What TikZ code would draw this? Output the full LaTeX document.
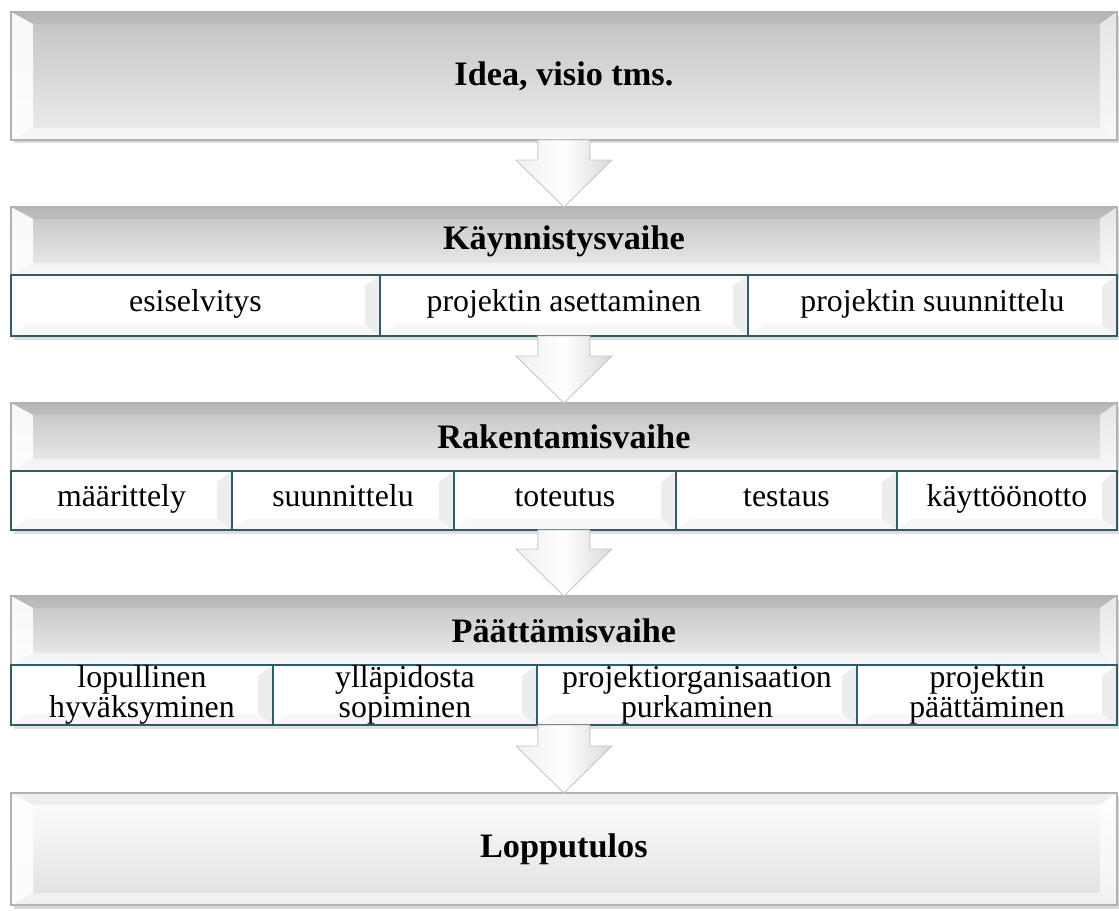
\documentclass[tikz,border=0pt]{standalone}
\usepackage{fontspec}
\setmainfont{Liberation Serif}
\usetikzlibrary{calc,shadows}

\definecolor{barTop}{HTML}{C2C2C2}
\definecolor{barBot}{HTML}{EEEEEE}
\definecolor{subEdge}{HTML}{2F5D66}

\newcommand{\boxfont}{\fontsize{19.5}{21}\selectfont}
\newcommand{\subfont}{\fontsize{18.1}{17.2}\selectfont}

\tikzset{
  bevel/.style={path picture={
      \fill[black,opacity=0.06] (path picture bounding box.north west) -- (path picture bounding box.north east)
        -- ++(-0.34cm,-0.24cm) -- ($(path picture bounding box.north west)+(0.44cm,-0.24cm)$) -- cycle;
      \fill[white,opacity=0.5] (path picture bounding box.south west) -- (path picture bounding box.south east)
        -- ++(-0.34cm,0.24cm) -- ($(path picture bounding box.south west)+(0.44cm,0.24cm)$) -- cycle;
      \fill[white,opacity=0.9] (path picture bounding box.north west) -- ++(0.44cm,-0.24cm)
        -- ($(path picture bounding box.south west)+(0.44cm,0.24cm)$) -- (path picture bounding box.south west) -- cycle;
      \fill[white,opacity=0.6] (path picture bounding box.north east) -- ++(-0.34cm,-0.24cm)
        -- ($(path picture bounding box.south east)+(-0.34cm,0.24cm)$) -- (path picture bounding box.south east) -- cycle;
    }},
  subbevel/.style={path picture={
      \fill[gray!14] (path picture bounding box.north east) -- ++(-0.3cm,-0.22cm)
        -- ($(path picture bounding box.south east)+(-0.3cm,0.22cm)$) -- (path picture bounding box.south east) -- cycle;
      \fill[gray!6] (path picture bounding box.south west) -- (path picture bounding box.south east)
        -- ++(-0.3cm,0.22cm) -- ($(path picture bounding box.south west)+(0.3cm,0.22cm)$) -- cycle;
    }},
}

% block arrow from the bottom of one node to the top of the next
\newcommand{\flowarrow}[2]{%
  \path[left color=gray!12, right color=gray!30, middle color=white, draw=gray!45, line width=0.5pt]
    let \p1=(#1.south), \p2=(#2.north) in
    (\x2-0.52cm,\y1) -- (\x2+0.52cm,\y1) -- (\x2+0.52cm,\y2+0.94cm) -- (\x2+0.96cm,\y2+0.94cm)
    -- (\x2,\y2) -- (\x2-0.96cm,\y2+0.94cm) -- (\x2-0.52cm,\y2+0.94cm) -- cycle;}

\begin{document}
\begin{tikzpicture}[x=0.02cm,y=-0.02cm,
    bar/.style={anchor=north west, minimum width=22.12cm, inner sep=0pt, outer sep=0pt,
      draw=gray!60, line width=0.9pt, top color=barTop, bottom color=barBot,
      font=\boxfont\bfseries, bevel,
      drop shadow={opacity=0.3, shadow xshift=1.5pt, shadow yshift=-2pt}},
    endbar/.style={bar, top color=white, bottom color=gray!25},
    sub/.style={anchor=north west, inner sep=0pt, outer sep=0pt, draw=subEdge, line width=1.3pt,
      fill=white, align=center, font=\subfont, subbevel,
      drop shadow={opacity=0.25, shadow xshift=1.5pt, shadow yshift=-2pt}},
    oneline/.style={text height=0.8em, text depth=0.11em}]
  \useasboundingbox (0,0) rectangle (1119,913);

  \node[bar, minimum height=2.56cm] (idea) at (11,12) {Idea, visio tms.};

  % Kaynnistysvaihe
  \node[bar, minimum height=1.36cm] (kaynnistys) at (11,207) {Käynnistysvaihe};
  \node[sub, oneline, minimum width=7.38cm, minimum height=1.22cm] (esiselvitys) at (11,275) {esiselvitys};
  \node[sub, oneline, minimum width=7.36cm, minimum height=1.22cm] (asettaminen) at (380,275) {projektin asettaminen};
  \node[sub, oneline, minimum width=7.38cm, minimum height=1.22cm] (suunnittelu) at (748,275) {projektin suunnittelu};

  % Rakentamisvaihe
  \node[bar, minimum height=1.36cm] (rakentamis) at (11,403) {Rakentamisvaihe};
  \node[sub, oneline, minimum width=4.42cm, minimum height=1.18cm] (maarittely) at (11,471) {määrittely};
  \node[sub, oneline, minimum width=4.44cm, minimum height=1.18cm] (rsuunnittelu) at (232,471) {suunnittelu};
  \node[sub, oneline, minimum width=4.44cm, minimum height=1.18cm] (toteutus) at (454,471) {toteutus};
  \node[sub, oneline, minimum width=4.42cm, minimum height=1.18cm] (testaus) at (676,471) {testaus};
  \node[sub, oneline, minimum width=4.40cm, minimum height=1.18cm] (kayttoonotto) at (897,471) {käyttöönotto};

  % Paattamisvaihe
  \node[bar, minimum height=1.38cm] (paattamis) at (11,596) {Päättämisvaihe};
  \node[sub, minimum width=5.24cm, minimum height=1.2cm] (hyvaksyminen) at (11,665) {lopullinen\\hyväksyminen};
  \node[sub, minimum width=5.28cm, minimum height=1.2cm] (yllapito) at (273,665) {ylläpidosta\\sopiminen};
  \node[sub, minimum width=6.40cm, minimum height=1.2cm] (purkaminen) at (537,665) {projektiorganisaation\\purkaminen};
  \node[sub, minimum width=5.20cm, minimum height=1.2cm] (paattaminen) at (857,665) {projektin\\päättäminen};

  \node[endbar, minimum height=2.24cm] (lopputulos) at (11,793) {Lopputulos};

  \flowarrow{idea}{kaynnistys}
  \flowarrow{asettaminen}{rakentamis}
  \flowarrow{toteutus}{paattamis}
  \flowarrow{purkaminen}{lopputulos}
\end{tikzpicture}
\end{document}
